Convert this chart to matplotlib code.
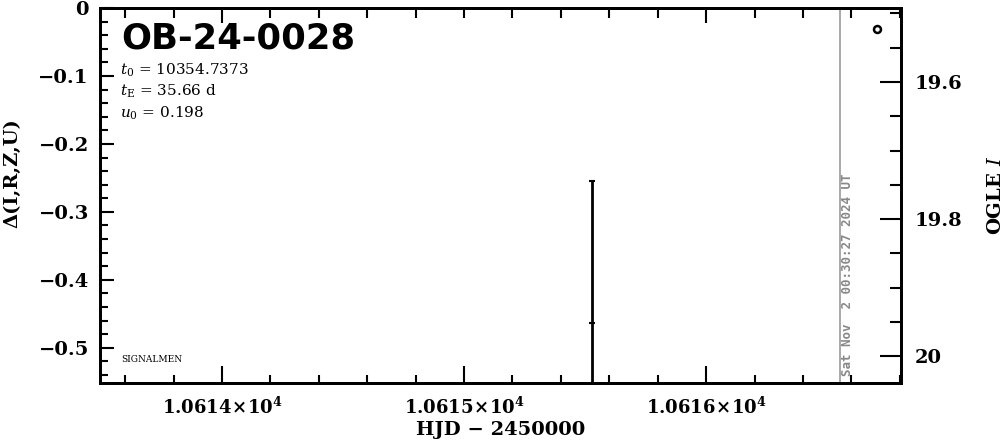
import numpy as np
import matplotlib
matplotlib.use("Agg")
import matplotlib.pyplot as plt
from matplotlib.ticker import MultipleLocator, FuncFormatter

# ---- data ----
event_name = "OB-24-0028"
t0_text = "10354.7373"
tE_text = "35.66"
u0_text = "0.198"
pt_hjd = [10615.527]
pt_delta = [-0.463]
pt_err = [0.208]
circ_hjd = [10616.704]
circ_delta = [-0.031]
now_hjd = 10616.555
now_text = "Sat Nov  2 00:30:27 2024 UT"
xlim = (10613.496, 10616.805)
ylim = (-0.5518, 0.0)
mag_lim = (20.039, 19.492)

plt.rcParams['font.family'] = ['DejaVu Serif']
plt.rcParams['mathtext.fontset'] = 'dejavuserif'

fig = plt.figure(figsize=(10.04, 4.41), dpi=100)
ax = fig.add_axes([100/1004, 1-383/441, 801/1004, 375/441])

ax.errorbar(pt_hjd, pt_delta, yerr=pt_err, fmt='_', color='black', ms=4,
            elinewidth=2, capsize=2, capthick=1.5, mew=1.5)
ax.plot(circ_hjd, circ_delta, 'o', mfc='none', mec='black', ms=5, mew=1.8)
ax.axvline(now_hjd, color='#999999', lw=1.2)
ax.text(now_hjd + 0.03, -0.541, now_text, rotation=90, ha='center', va='bottom',
        color='#888888', fontsize=9, fontweight='bold', family='DejaVu Sans Mono')

ax.set_xlim(*xlim)
ax.set_ylim(*ylim)

ax.xaxis.set_major_locator(MultipleLocator(1))
ax.xaxis.set_minor_locator(MultipleLocator(0.2))
ax.yaxis.set_major_locator(MultipleLocator(0.1))
ax.yaxis.set_minor_locator(MultipleLocator(0.02))

def xfmt(v, p):
    return r"$\mathbf{1.%04d\!\times\!10^4}$" % int(round(v - 10000))
ax.xaxis.set_major_formatter(FuncFormatter(xfmt))
ax.yaxis.set_major_formatter(FuncFormatter(lambda v, p: "0" if abs(v) < 1e-9 else ("\u2212%.1f" % abs(v))))

ax.tick_params(axis='x', which='major', direction='in', length=12, width=1.5,
               labelsize=13, pad=10, top=False)
ax.tick_params(axis='x', which='minor', direction='in', length=6, width=1.5, top=False)
ax.tick_params(axis='y', which='major', direction='in', length=10, width=1.5,
               labelsize=14, pad=8, right=False)
ax.tick_params(axis='y', which='minor', direction='in', length=6, width=1.5, right=False)
for lab in ax.get_yticklabels():
    lab.set_fontweight('bold')
for s in ax.spines.values():
    s.set_linewidth(2)

ax.set_xlabel("HJD \u2212 2450000", fontsize=14, fontweight='bold', labelpad=2)
ax.set_ylabel("\u0394(I,R,Z,U)", fontsize=14, fontweight='bold')
ax.yaxis.set_label_coords(-0.0986, 0.56)

# right magnitude axis
ax2 = ax.twinx()
ax2.set_ylim(*mag_lim)
ax2.yaxis.set_major_locator(MultipleLocator(0.2))
ax2.yaxis.set_minor_locator(MultipleLocator(0.05))
ax2.yaxis.set_major_formatter(FuncFormatter(lambda v, p: "%g" % round(v, 2)))
ax2.tick_params(axis='y', which='major', direction='in', length=15, width=1.5,
                labelsize=14, pad=10)
ax2.tick_params(axis='y', which='minor', direction='in', length=8, width=1.5)
for lab in ax2.get_yticklabels():
    lab.set_fontweight('bold')
ax2.set_ylabel(r"OGLE $\mathit{I}$", fontsize=14, fontweight='bold')
ax2.yaxis.set_label_coords(1.107, 0.499)
for s in ax2.spines.values():
    s.set_linewidth(2)

# top axis ticks (no labels)
sec = ax.secondary_xaxis('top')
sec.xaxis.set_major_locator(MultipleLocator(2))
sec.xaxis.set_minor_locator(MultipleLocator(0.2))
sec.tick_params(axis='x', which='major', direction='in', length=11, width=1.5, labeltop=False)
sec.tick_params(axis='x', which='minor', direction='in', length=7, width=1.5)
sec.spines['top'].set_linewidth(2)

# annotations
ax.text(0.027, 0.965, event_name, transform=ax.transAxes, fontsize=25.5,
        fontweight='bold', family='DejaVu Sans', va='top', ha='left')
ax.text(0.025, 0.835, r"$t_0$ = " + t0_text, transform=ax.transAxes, fontsize=11, va='center')
ax.text(0.025, 0.777, r"$t_{\rm E}$ = " + tE_text + " d", transform=ax.transAxes, fontsize=11, va='center')
ax.text(0.025, 0.718, r"$u_0$ = " + u0_text, transform=ax.transAxes, fontsize=11, va='center')
ax.text(0.026, 0.062, "SIGNALMEN", transform=ax.transAxes, fontsize=6.5, va='center')

fig.savefig("out.png", dpi=100)
